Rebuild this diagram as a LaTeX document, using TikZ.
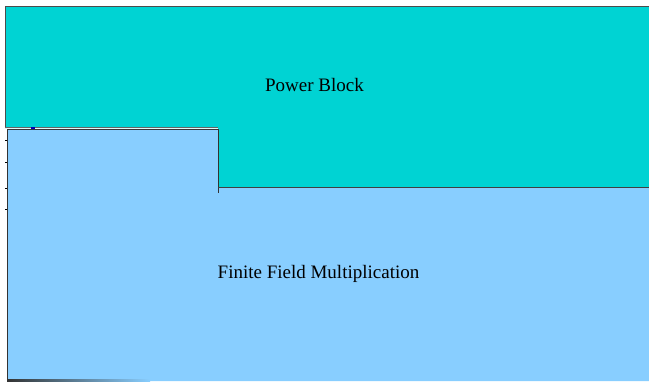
\documentclass[tikz,border=0pt]{standalone}
\usepackage{fontspec}
\setmainfont{Liberation Serif}
\begin{document}
\begin{tikzpicture}[x=1pt,y=-1pt,
  lbl/.style={font=\fontsize{19}{22}\selectfont, inner sep=0pt, anchor=base},
  edge/.style={draw=black!80, line width=1pt}]
\definecolor{teal1}{HTML}{00D3D3}
\definecolor{blue1}{HTML}{88CEFF}
\useasboundingbox (0,0) rectangle (649,381);
\fill[white] (0,0) rectangle (649,381);
% Power block
\fill[teal1] (5,6) -- (649,6) -- (649,187) -- (218,187) -- (218,128) -- (5,128) -- cycle;
\draw[edge, draw=black!70] (5,128) -- (5,6) -- (649,6);
% Finite field multiplication
\fill[blue1] (7,129) -- (218,129) -- (218,187) -- (649,187) -- (649,381) -- (7,381) -- cycle;
\draw[edge] (7,380.5) -- (7,129) -- (218,129) -- (218,193);
\draw[black!60, line width=0.7pt] (5,127.5) -- (218,127.5);
\draw[edge, draw=black!75] (218,187) -- (649,187);
\shade[left color=black!80, right color=blue1, shading angle=90] (7,379.5) rectangle (150,381);
\foreach \yy in {140,162,188,209} \draw[black, line width=0.6pt] (5,\yy) -- (7,\yy);
\fill[blue!70!black] (31,127) rectangle (35,129);
\node[lbl] (pb) at (314.5,91) {Power Block};
\node[lbl] (ffm) at (318.5,278) {Finite Field Multiplication};
\end{tikzpicture}
\end{document}
